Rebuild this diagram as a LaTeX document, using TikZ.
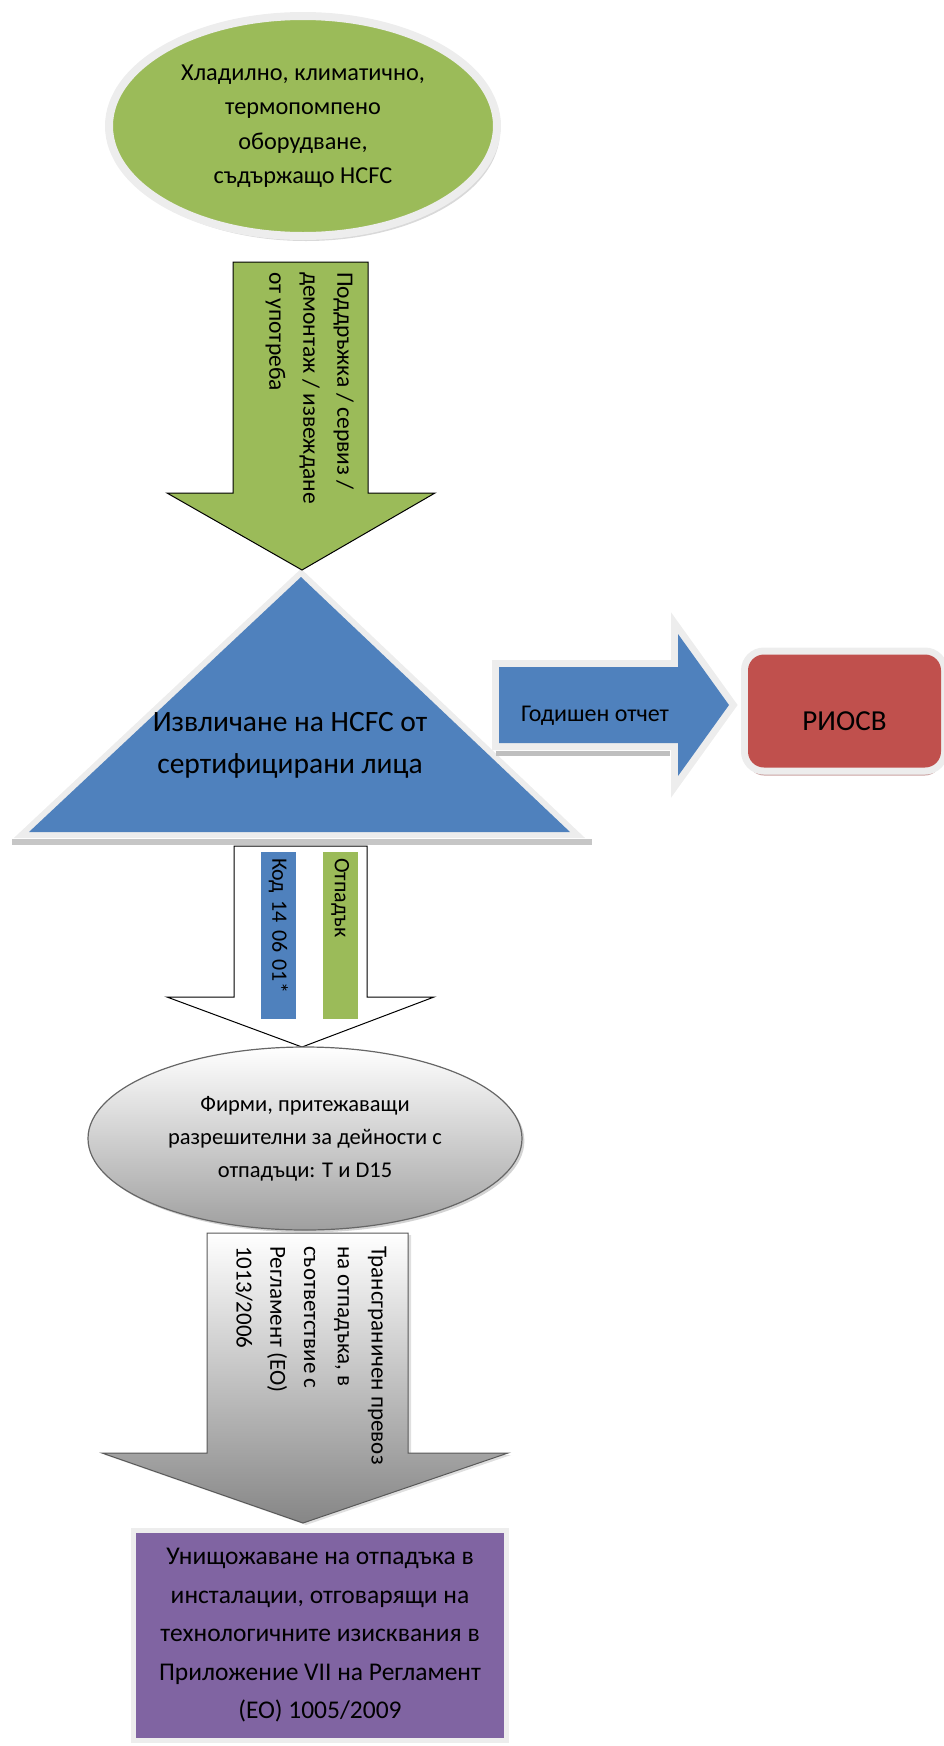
\documentclass[tikz,border=0pt]{standalone}
\usepackage{fontspec}
\setmainfont{Carlito}
\usetikzlibrary{shapes.geometric,shadows}

\definecolor{okgreen}{HTML}{9BBB59}
\definecolor{okblue}{HTML}{4F81BD}
\definecolor{okred}{HTML}{C0504D}
\definecolor{okpurple}{HTML}{8064A2}
\definecolor{halogray}{HTML}{EDEDED}

\tikzset{
  halo/.style={preaction={draw=halogray,line width=#1,line join=miter}},
  halo/.default=14pt,
  lbl/.style={align=center,inner sep=0pt},
  vlbl/.style={align=left,inner sep=0pt,rotate=-90,anchor=north west},
  tag/.style={font=\fontsize{22}{26}\selectfont,rotate=-90,anchor=north west,inner xsep=6pt,inner ysep=0pt,minimum height=35pt,text width=155pt,align=left},
}

\begin{document}
\begin{tikzpicture}[x=1pt,y=-1pt]
\useasboundingbox (0,0) rectangle (943,1746);

% oborudvane
\node[ellipse,lbl,font=\fontsize{24.3}{34.5}\selectfont,minimum width=388pt,minimum height=220pt,fill=okgreen,draw=halogray,line width=8pt,drop shadow={shadow xshift=3pt,shadow yshift=-5pt,opacity=.3}] (H) at (303,126) {Хладилно, климатично,\\термопомпено\\оборудване,\\съдържащо HCFC};

% izvlichane
\fill[gray!45] (12,839) rectangle (592,845);
\fill[okblue,halo=12pt] (301,577) -- (570,832) -- (29,832) -- cycle;
\node[lbl,font=\fontsize{29.5}{42}\selectfont] (I) at (290,745) {Извличане на HCFC от\\сертифицирани лица};

% zelena strelka
\draw[fill=okgreen,line width=1pt] (233,262) -- (368,262) -- (368,493) -- (435,493) -- (302,570) -- (167,493) -- (233,493) -- cycle;
\node[vlbl,font=\fontsize{23.5}{34}\selectfont] (P) at (354,272) {Поддръжка / сервиз /\\демонтаж / извеждане\\от употреба};

% otchet
\fill[gray!50] (496,751) rectangle (670,756);
\fill[okblue,halo] (499,667) -- (678,667) -- (678,634) -- (729,705) -- (678,776) -- (678,743) -- (499,743) -- cycle;
\node[lbl,font=\fontsize{24}{30}\selectfont] (G) at (595,716) {Годишен отчет};
\node[rectangle,rounded corners=16pt,fill=okred,minimum width=193pt,minimum height=113pt,drop shadow={shadow xshift=0pt,shadow yshift=-8pt,fill=okred!60!gray,opacity=.6},halo,font=\fontsize{29}{34}\selectfont] (R) at (844.5,711) {\raisebox{-10pt}[\height][\depth]{РИОСВ}};

% byala strelka
\draw[fill=white,line width=1pt] (234,846) -- (367,846) -- (367,997) -- (434,997) -- (302,1047) -- (167,997) -- (234,997) -- cycle;
\node[tag,fill=okblue] (K) at (296,852) {Код 14 06 01*};
\node[tag,fill=okgreen] (O) at (358,852) {Отпадък};

% firmi
\node[ellipse,lbl,font=\fontsize{22.5}{33}\selectfont,minimum width=434pt,minimum height=183pt,top color=white,bottom color=gray!75,draw=gray!80!black,line width=1.2pt,drop shadow={opacity=.35}] (F) at (305,1138.5) {Фирми, притежаващи\\разрешителни за дейности с\\отпадъци: T и D15};

% siva strelka
\draw[top color=white,bottom color=gray!95,draw=black!65,line width=1pt,drop shadow={shadow xshift=3pt,shadow yshift=-2pt,opacity=.25}] (207,1233) -- (408,1233) -- (408,1453) -- (508,1453) -- (303,1523) -- (102,1453) -- (207,1453) -- cycle;
\node[vlbl,font=\fontsize{23}{33.75}\selectfont] (T) at (386.5,1246) {Трансграничен превоз\\на отпадъка, в\\съответствие с\\Регламент (ЕО)\\1013/2006};

% unishtozhavane
\node[rectangle,fill=okpurple,halo=10pt,minimum width=368pt,minimum height=205pt,font=\fontsize{25.5}{38.5}\selectfont,align=center] (U) at (320,1635.5) {Унищожаване на отпадъка в\\инсталации, отговарящи на\\технологичните изисквания в\\Приложение VII на Регламент\\(ЕО) 1005/2009};
\end{tikzpicture}
\end{document}
